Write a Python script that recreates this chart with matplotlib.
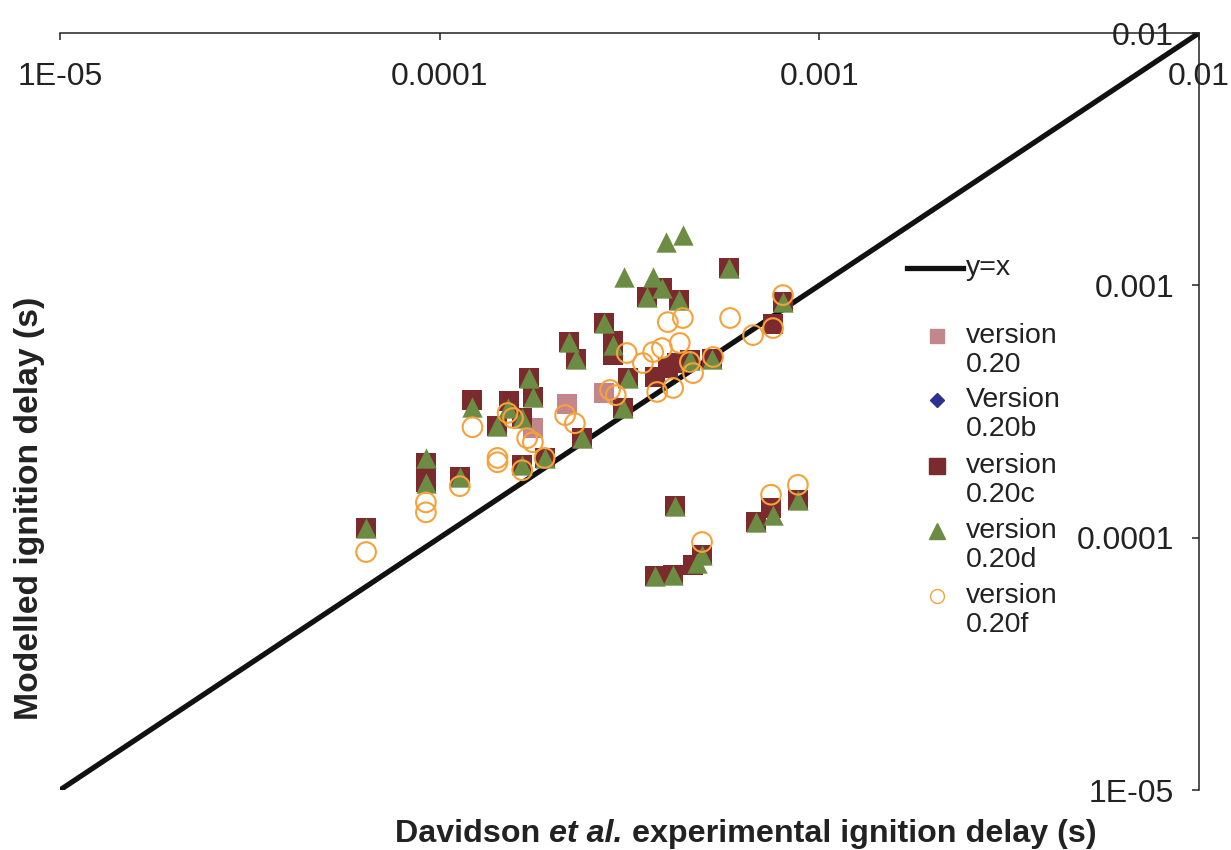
import matplotlib
matplotlib.use("Agg")
import matplotlib.pyplot as plt
from matplotlib.lines import Line2D
from matplotlib.ticker import FixedLocator, FixedFormatter, NullLocator

plt.rcParams['font.family'] = ['Liberation Sans', 'DejaVu Sans']

# ignition delays in seconds: (experimental, modelled)
v020_x = [1.76e-4, 2.16e-4, 2.71e-4, 9.2e-5, 1.22e-4, 2.19e-4, 3.69e-4, 3.99e-4, 4.56e-4, 6.81e-4, 3.69e-4]
v020_y = [2.72e-4, 3.38e-4, 3.74e-4, 1.98e-4, 3.51e-4, 5.96e-4, 4.33e-4, 4.70e-4, 5.06e-4, 1.15e-4, 7.05e-5]

v020b_x = [9.2e-5, 1.52e-4, 2.29e-4, 4.22e-4, 5.21e-4, 7.46e-4, 4.12e-4]
v020b_y = [1.66e-4, 3.48e-4, 5.10e-4, 4.92e-4, 5.10e-4, 1.31e-4, 7.11e-5]

v020c_x = [6.4e-5, 9.2e-5, 9.2e-5, 1.13e-4, 1.22e-4, 1.42e-4, 1.52e-4, 1.65e-4, 1.72e-4, 1.76e-4,
           1.65e-4, 1.89e-4, 2.19e-4, 2.29e-4, 2.71e-4, 2.86e-4, 2.86e-4, 3.13e-4, 3.04e-4, 2.37e-4,
           3.52e-4, 3.85e-4, 4.27e-4, 5.78e-4, 3.69e-4, 3.99e-4, 4.22e-4, 4.56e-4, 5.21e-4, 8.02e-4,
           7.55e-4, 4.17e-4, 6.81e-4, 7.46e-4, 8.78e-4, 3.69e-4, 4.12e-4, 4.65e-4, 4.91e-4]
v020c_y = [1.09e-4, 1.98e-4, 1.66e-4, 1.74e-4, 3.51e-4, 2.77e-4, 3.48e-4, 2.98e-4, 4.29e-4, 3.61e-4,
           1.94e-4, 2.07e-4, 5.96e-4, 5.10e-4, 7.09e-4, 6.01e-4, 5.29e-4, 4.29e-4, 3.26e-4, 2.48e-4,
           8.99e-4, 9.76e-4, 8.74e-4, 1.171e-3, 4.33e-4, 4.70e-4, 4.92e-4, 5.06e-4, 5.10e-4, 8.59e-4,
           7.02e-4, 1.33e-4, 1.15e-4, 1.31e-4, 1.41e-4, 7.05e-5, 7.11e-5, 7.79e-5, 8.53e-5]

v020d_x = [6.4e-5, 9.2e-5, 9.2e-5, 1.13e-4, 1.22e-4, 1.42e-4, 1.51e-4, 1.65e-4, 1.72e-4, 1.76e-4,
           1.65e-4, 1.89e-4, 2.19e-4, 2.29e-4, 2.71e-4, 2.86e-4, 3.06e-4, 3.13e-4, 3.04e-4, 2.37e-4,
           3.52e-4, 3.65e-4, 3.85e-4, 4.27e-4, 3.95e-4, 4.37e-4, 5.78e-4, 4.56e-4, 5.21e-4, 8.02e-4,
           4.17e-4, 6.81e-4, 7.55e-4, 8.78e-4, 3.69e-4, 4.12e-4, 4.76e-4, 4.91e-4]
v020d_y = [1.09e-4, 2.07e-4, 1.65e-4, 1.74e-4, 3.29e-4, 2.77e-4, 3.26e-4, 2.98e-4, 4.29e-4, 3.61e-4,
           1.94e-4, 2.07e-4, 5.96e-4, 5.10e-4, 7.09e-4, 5.80e-4, 1.079e-3, 4.29e-4, 3.26e-4, 2.48e-4,
           8.99e-4, 1.079e-3, 9.76e-4, 8.74e-4, 1.484e-3, 1.583e-3, 1.171e-3, 5.06e-4, 5.10e-4, 8.59e-4,
           1.33e-4, 1.15e-4, 1.23e-4, 1.41e-4, 7.05e-5, 7.11e-5, 7.93e-5, 8.53e-5]

v020f_x = [6.4e-5, 9.2e-5, 9.2e-5, 1.13e-4, 1.22e-4, 1.51e-4, 1.56e-4, 1.70e-4, 1.76e-4, 1.42e-4,
           1.42e-4, 1.65e-4, 1.89e-4, 2.14e-4, 2.27e-4, 2.81e-4, 2.91e-4, 3.11e-4, 3.43e-4, 3.65e-4,
           3.85e-4, 4.29e-4, 3.99e-4, 4.37e-4, 5.82e-4, 4.56e-4, 5.25e-4, 4.65e-4, 4.12e-4, 3.74e-4,
           6.69e-4, 7.55e-4, 8.02e-4, 7.46e-4, 8.78e-4, 4.91e-4]
v020f_y = [8.77e-5, 1.38e-4, 1.26e-4, 1.60e-4, 2.74e-4, 3.12e-4, 2.98e-4, 2.48e-4, 2.39e-4, 2.07e-4,
           1.99e-4, 1.85e-4, 2.07e-4, 3.06e-4, 2.84e-4, 3.85e-4, 3.67e-4, 5.39e-4, 4.92e-4, 5.44e-4,
           5.64e-4, 5.91e-4, 7.15e-4, 7.42e-4, 7.42e-4, 4.97e-4, 5.20e-4, 4.49e-4, 3.92e-4, 3.78e-4,
           6.35e-4, 6.77e-4, 9.15e-4, 1.48e-4, 1.62e-4, 9.61e-5]

limits = [1e-5, 1e-2]
tick_values = [1e-5, 1e-4, 1e-3, 1e-2]
tick_labels = ['1E-05', '0.0001', '0.001', '0.01']

c_pink = '#C3868A'
c_blue = '#2E3192'
c_maroon = '#7B2A2D'
c_green = '#6C8C43'
c_orange = '#F5A23A'
c_text = '#222222'


def main():
    fig = plt.figure(figsize=(12.31, 8.5), dpi=100)
    W, H = 1231, 850
    ax = fig.add_axes([60 / W, 1 - 790 / H, 1139 / W, 757 / H])

    ax.plot(limits, limits, color='#111111', lw=3.8, zorder=1, solid_capstyle='butt')
    ax.scatter(v020_x, v020_y, marker='s', s=225, color=c_pink, lw=0, zorder=2)
    ax.scatter(v020b_x, v020b_y, marker='D', s=90, color=c_blue, lw=0, zorder=3)
    ax.scatter(v020c_x, v020c_y, marker='s', s=225, color=c_maroon, lw=0, zorder=4)
    ax.scatter(v020d_x, v020d_y, marker='^', s=215, color=c_green, lw=0, zorder=5)
    ax.scatter(v020f_x, v020f_y, marker='o', s=200, facecolor='none', edgecolor=c_orange,
               lw=1.5, zorder=6)

    ax.set_xscale('log')
    ax.set_yscale('log')
    ax.set_xlim(limits)
    ax.set_ylim(limits)

    # axis lines sit on the top and right edges, labels on the inside
    ax.spines['top'].set_visible(False)
    ax.spines['right'].set_visible(False)
    ax.spines['bottom'].set_position(('axes', 1.0))
    ax.spines['left'].set_position(('axes', 1.0))
    for sp in ('bottom', 'left'):
        ax.spines[sp].set_linewidth(1.1)
        ax.spines[sp].set_color(c_text)

    for axis in (ax.xaxis, ax.yaxis):
        axis.set_major_locator(FixedLocator(tick_values))
        axis.set_major_formatter(FixedFormatter(tick_labels))
        axis.set_minor_locator(NullLocator())
    ax.tick_params(axis='x', length=5, width=1.1, pad=16, labelsize=23, colors=c_text)
    ax.tick_params(axis='y', length=5, width=1.1, pad=13, labelsize=23, colors=c_text)

    # axis titles
    fig.text(30 / W, 1 - 508 / H, 'Modelled ignition delay (s)', rotation=90,
             ha='center', va='center', fontsize=24.3, fontweight='bold', color=c_text)
    t1 = fig.text(395 / W, 1 - 849 / H, 'Davidson ', ha='left', va='bottom',
                  fontsize=23.2, fontweight='bold', color=c_text)
    t2 = ax.annotate('et al.', xy=(1, 0), xycoords=t1, ha='left', va='bottom',
                     fontsize=23.2, fontweight='bold', fontstyle='italic', color=c_text)
    ax.annotate(' experimental ignition delay (s)', xy=(1, 0), xycoords=t2, ha='left',
                va='bottom', fontsize=23.2, fontweight='bold', color=c_text)

    # legend
    tf = fig.transFigure
    fig.add_artist(Line2D([907 / W, 963 / W], [1 - 268 / H, 1 - 268 / H], color='#111111',
                          lw=3.8, transform=tf))
    fig.text(966 / W, 1 - 268 / H, 'y=x', ha='left', va='center', fontsize=20.5, color=c_text)

    entries = [
        ('version\n0.20', 's', 9.5, c_pink, c_pink, 336),
        ('Version\n0.20b', 'D', 7.0, c_blue, c_blue, 400),
        ('version\n0.20c', 's', 11.0, c_maroon, c_maroon, 466),
        ('version\n0.20d', '^', 11.0, c_green, c_green, 531),
        ('version\n0.20f', 'o', 10.0, 'none', c_orange, 596),
    ]
    for label, mk, ms, fc, ec, py in entries:
        fig.add_artist(Line2D([937 / W], [1 - py / H], marker=mk, markersize=ms,
                              markerfacecolor=fc, markeredgecolor=ec, markeredgewidth=1.0,
                              linestyle='none', transform=tf))
        fig.text(966 / W, 1 - (py - 13) / H, label, ha='left', va='top', fontsize=20.5,
                 linespacing=1.15, color=c_text)

    fig.savefig('out.png', dpi=100)


if __name__ == '__main__':
    main()
